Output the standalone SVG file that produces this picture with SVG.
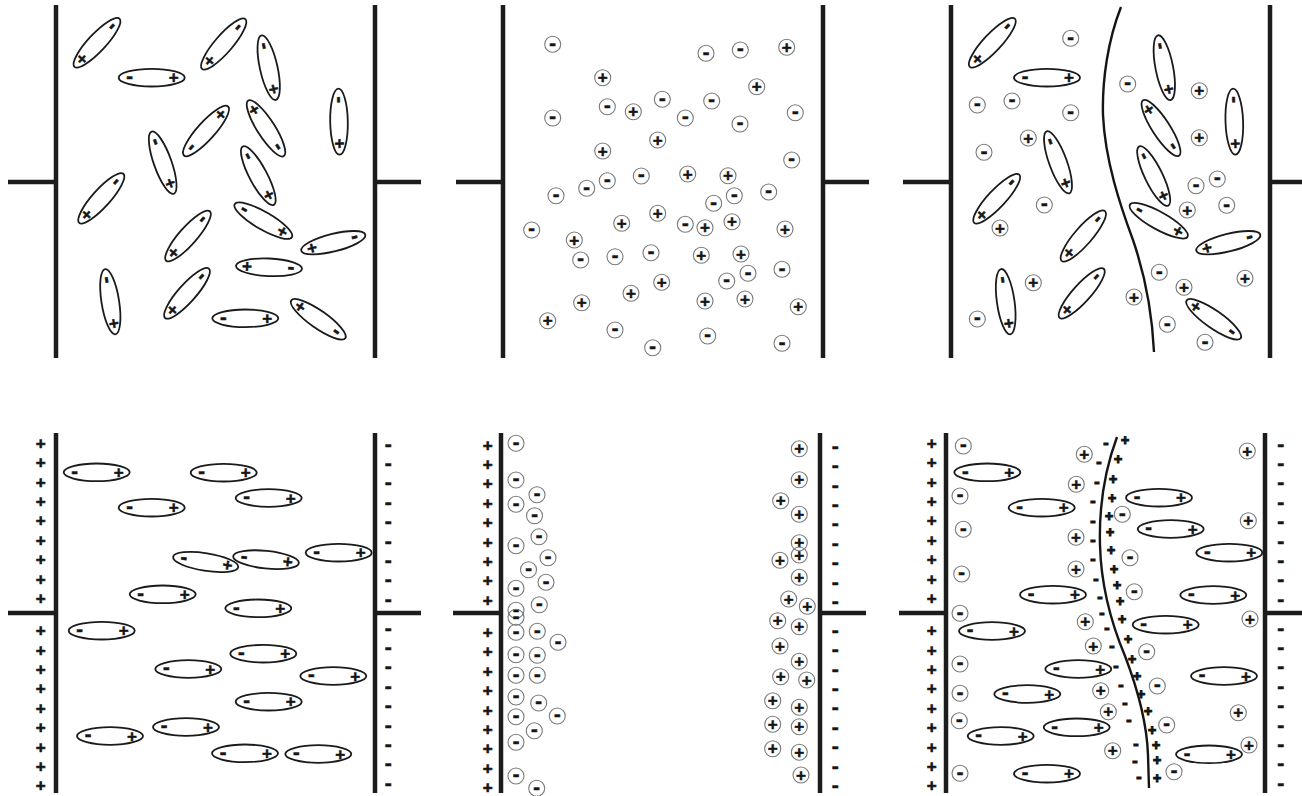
<svg xmlns="http://www.w3.org/2000/svg" xmlns:xlink="http://www.w3.org/1999/xlink" width="1302" height="796" viewBox="0 0 1302 796">
<style>
  .plate { fill:none; stroke:#1c1c1c; stroke-width:4.5; }
  .el { fill:none; stroke:#1a1a1a; stroke-width:1.8; }
  .ion { fill:none; stroke:#7a7a7a; stroke-width:1.1; }
  .curve { fill:none; stroke:#151515; stroke-width:2.4; }
  text { font-family:"Liberation Sans", Arial, sans-serif; font-weight:bold; text-anchor:middle; fill:#151515; stroke:#151515; }
  .pl { font-size:17px; dominant-baseline:central; stroke-width:0.5; }
  .mi { font-size:20px; dominant-baseline:middle; stroke-width:0.6; }
  .ps { font-size:17px; dominant-baseline:central; stroke-width:0.6; }
  .ms { font-size:21px; dominant-baseline:middle; stroke-width:0.6; }
  .bp { font-size:14px; dominant-baseline:central; stroke-width:1.1; }
  .bm { font-size:16px; dominant-baseline:middle; stroke-width:1.1; }
</style>
<defs>
  <!-- dipole: minus end at left, plus end at right; rotated per use -->
  <g id="dip">
    <ellipse rx="33" ry="8.8" class="el"/>
    <text x="-22" y="0" class="mi">-</text>
    <text x="22" y="0" class="pl">+</text>
  </g>
  <g id="ip"><circle r="8" class="ion"/><text y="0" class="pl">+</text></g>
  <g id="im"><circle r="8" class="ion"/><text y="0" class="mi">-</text></g>
  <!-- column of plate charges -->
  <g id="pcol">
    <text y="0" class="ps">+</text><text y="19.4" class="ps">+</text><text y="38.8" class="ps">+</text>
    <text y="58.2" class="ps">+</text><text y="77.6" class="ps">+</text><text y="97" class="ps">+</text>
    <text y="116.4" class="ps">+</text><text y="135.8" class="ps">+</text><text y="155.2" class="ps">+</text>
    <text y="187.4" class="ps">+</text><text y="206.8" class="ps">+</text><text y="226.2" class="ps">+</text>
    <text y="245.6" class="ps">+</text><text y="265" class="ps">+</text><text y="284.4" class="ps">+</text>
    <text y="303.8" class="ps">+</text><text y="323.2" class="ps">+</text><text y="342.6" class="ps">+</text>
  </g>
  <g id="mcol">
    <text y="0" class="ms">-</text><text y="19.4" class="ms">-</text><text y="38.8" class="ms">-</text>
    <text y="58.2" class="ms">-</text><text y="77.6" class="ms">-</text><text y="97" class="ms">-</text>
    <text y="116.4" class="ms">-</text><text y="135.8" class="ms">-</text><text y="155.2" class="ms">-</text>
    <text y="184" class="ms">-</text><text y="203.4" class="ms">-</text><text y="222.8" class="ms">-</text>
    <text y="242.2" class="ms">-</text><text y="261.6" class="ms">-</text><text y="281" class="ms">-</text>
    <text y="300.4" class="ms">-</text><text y="319.8" class="ms">-</text><text y="339.2" class="ms">-</text>
  </g>
</defs>
<rect width="1302" height="796" fill="#fff"/>

<!-- Panel 1: randomly oriented dipoles, no field -->
<g id="panel-1">
  <path class="plate" d="M56,5 V358 M8,182 H56 M375,5 V358 M375,182 H421"/>
  <use href="#dip" transform="translate(97,42.7) rotate(133)"/>
  <use href="#dip" transform="translate(151.7,77.7)"/>
  <use href="#dip" transform="translate(223.7,44) rotate(131)"/>
  <use href="#dip" transform="translate(268.7,67.7) rotate(77.5)"/>
  <use href="#dip" transform="translate(339,121.7) rotate(89)"/>
  <use href="#dip" transform="translate(206,131) rotate(-48)"/>
  <use href="#dip" transform="translate(266,128.3) rotate(-122.6)"/>
  <use href="#dip" transform="translate(162.7,162.7) rotate(70.4)"/>
  <use href="#dip" transform="translate(258.3,175.7) rotate(62)"/>
  <use href="#dip" transform="translate(101.3,198.3) rotate(132)"/>
  <use href="#dip" transform="translate(263.3,220.7) rotate(30)"/>
  <use href="#dip" transform="translate(188,236) rotate(131.4)"/>
  <use href="#dip" transform="translate(333.3,242.7) rotate(166)"/>
  <use href="#dip" transform="translate(269,267.3) rotate(182.5)"/>
  <use href="#dip" transform="translate(110.3,301.7) rotate(81)"/>
  <use href="#dip" transform="translate(187,293.3) rotate(131.6)"/>
  <use href="#dip" transform="translate(245.3,318.3)"/>
  <use href="#dip" transform="translate(318.3,319.3) rotate(215)"/>
</g>

<!-- Panel 2: free ions, no field -->
<g id="panel-2">
  <path class="plate" d="M503,5 V358 M456,182 H503 M823,5 V358 M823,182 H869"/>
  <use href="#im" x="552.7" y="44.3"/>
  <use href="#im" x="706" y="53.3"/>
  <use href="#im" x="740.3" y="50"/>
  <use href="#ip" x="786.7" y="47.3"/>
  <use href="#ip" x="602.7" y="77.7"/>
  <use href="#ip" x="756.7" y="86.7"/>
  <use href="#im" x="607.3" y="106.7"/>
  <use href="#ip" x="633.3" y="111.7"/>
  <use href="#im" x="662.3" y="99.3"/>
  <use href="#im" x="711.7" y="101"/>
  <use href="#im" x="685.3" y="118"/>
  <use href="#im" x="552.7" y="118"/>
  <use href="#im" x="740" y="124"/>
  <use href="#im" x="795.3" y="112.7"/>
  <use href="#ip" x="657.7" y="140"/>
  <use href="#ip" x="602.7" y="151"/>
  <use href="#im" x="791.7" y="160"/>
  <use href="#im" x="607.3" y="180.7"/>
  <use href="#im" x="641.3" y="176"/>
  <use href="#ip" x="687.7" y="174"/>
  <use href="#ip" x="728" y="175.7"/>
  <use href="#im" x="586.7" y="188.3"/>
  <use href="#im" x="556" y="195.7"/>
  <use href="#im" x="734.3" y="195.7"/>
  <use href="#im" x="768.7" y="192"/>
  <use href="#im" x="713.7" y="203.3"/>
  <use href="#ip" x="657.7" y="213.3"/>
  <use href="#ip" x="621.7" y="223.3"/>
  <use href="#im" x="685.3" y="224.3"/>
  <use href="#ip" x="705" y="227.7"/>
  <use href="#ip" x="732" y="221.7"/>
  <use href="#ip" x="785" y="229"/>
  <use href="#im" x="531.7" y="230"/>
  <use href="#ip" x="574.3" y="240"/>
  <use href="#im" x="580.7" y="260"/>
  <use href="#im" x="615" y="256.7"/>
  <use href="#im" x="651" y="252.7"/>
  <use href="#ip" x="701.3" y="255.3"/>
  <use href="#ip" x="741" y="254"/>
  <use href="#im" x="782" y="269.3"/>
  <use href="#im" x="748" y="273.3"/>
  <use href="#im" x="726.7" y="281"/>
  <use href="#ip" x="661.7" y="282.3"/>
  <use href="#ip" x="631" y="293.3"/>
  <use href="#ip" x="581.7" y="302.7"/>
  <use href="#ip" x="705" y="301"/>
  <use href="#ip" x="745" y="299"/>
  <use href="#ip" x="798.3" y="306.7"/>
  <use href="#ip" x="547.7" y="320.7"/>
  <use href="#im" x="615" y="330"/>
  <use href="#im" x="652.7" y="347.7"/>
  <use href="#im" x="707.7" y="336"/>
  <use href="#im" x="782" y="343.3"/>
</g>

<!-- Panel 3: dipoles and ions with a boundary -->
<g id="panel-3">
  <path class="plate" d="M951,5 V358 M903,182 H951 M1270,5 V358 M1270,182 H1302"/>
  <path class="curve" d="M1121,7 C1108,40 1102,80 1103,115 C1105,160 1120,205 1133,240 C1145,275 1152,310 1154,352"/>
  <use href="#dip" transform="translate(992.3,42.7) rotate(133)"/>
  <use href="#dip" transform="translate(1047,77.7)"/>
  <use href="#dip" transform="translate(1164.3,67.7) rotate(79)"/>
  <use href="#dip" transform="translate(1234.3,121.7) rotate(88)"/>
  <use href="#dip" transform="translate(1161,128) rotate(-123)"/>
  <use href="#dip" transform="translate(1058,162.3) rotate(70)"/>
  <use href="#dip" transform="translate(1153.7,176) rotate(64)"/>
  <use href="#dip" transform="translate(996.7,198.7) rotate(133)"/>
  <use href="#dip" transform="translate(1158.7,220.7) rotate(29)"/>
  <use href="#dip" transform="translate(1083.3,236) rotate(131)"/>
  <use href="#dip" transform="translate(1228.3,242.7) rotate(166)"/>
  <use href="#dip" transform="translate(1005.7,301.7) rotate(82)"/>
  <use href="#dip" transform="translate(1081.7,293.3) rotate(132)"/>
  <use href="#dip" transform="translate(1213.7,319.3) rotate(215)"/>
  <use href="#im" x="1070.7" y="38.3"/>
  <use href="#im" x="1127.7" y="84"/>
  <use href="#im" x="977.3" y="105"/>
  <use href="#im" x="1012" y="101"/>
  <use href="#im" x="1070.7" y="112.7"/>
  <use href="#ip" x="1199.3" y="90.7"/>
  <use href="#ip" x="1028.3" y="138"/>
  <use href="#ip" x="1199.3" y="137.7"/>
  <use href="#im" x="984" y="152.3"/>
  <use href="#im" x="1196" y="185.7"/>
  <use href="#im" x="1217.3" y="179"/>
  <use href="#im" x="1226.7" y="205.3"/>
  <use href="#im" x="1044.3" y="205"/>
  <use href="#ip" x="1187.3" y="210"/>
  <use href="#ip" x="1000" y="228"/>
  <use href="#im" x="1159.3" y="272.3"/>
  <use href="#ip" x="1033.3" y="282.7"/>
  <use href="#ip" x="1245" y="278.3"/>
  <use href="#ip" x="1184" y="287.3"/>
  <use href="#ip" x="1134" y="297"/>
  <use href="#im" x="977.3" y="319"/>
  <use href="#im" x="1167.3" y="324.3"/>
  <use href="#im" x="1205" y="342.3"/>
</g>

<!-- Panel 4: aligned dipoles between charged plates -->
<g id="panel-4">
  <path class="plate" d="M56,433 V793 M8,613 H56 M375,433 V793 M375,613 H421"/>
  <use href="#pcol" x="40.7" y="443.3"/>
  <use href="#mcol" x="388.3" y="445"/>
  <use href="#dip" transform="translate(96.7,472.3)"/>
  <use href="#dip" transform="translate(223.7,472.7)"/>
  <use href="#dip" transform="translate(268.7,498)"/>
  <use href="#dip" transform="translate(151.7,507.7)"/>
  <use href="#dip" transform="translate(205.7,562) rotate(9)"/>
  <use href="#dip" transform="translate(266,559.7) rotate(6)"/>
  <use href="#dip" transform="translate(338.7,552.7)"/>
  <use href="#dip" transform="translate(162.7,594.3)"/>
  <use href="#dip" transform="translate(258.3,608.3)"/>
  <use href="#dip" transform="translate(101.7,630.7)"/>
  <use href="#dip" transform="translate(263.3,653.7)"/>
  <use href="#dip" transform="translate(188.3,669)"/>
  <use href="#dip" transform="translate(333.3,676)"/>
  <use href="#dip" transform="translate(268.7,701.7)"/>
  <use href="#dip" transform="translate(186,727)"/>
  <use href="#dip" transform="translate(110,736)"/>
  <use href="#dip" transform="translate(245,753.3)"/>
  <use href="#dip" transform="translate(318.3,754)"/>
</g>

<!-- Panel 5: ions drawn to the opposite plates -->
<g id="panel-5">
  <path class="plate" d="M501,433 V793 M453,613 H501 M820,433 V793 M820,613 H866"/>
  <use href="#pcol" x="487.7" y="445"/>
  <use href="#mcol" x="835.3" y="447.3"/>
  <use href="#im" x="516" y="443.3"/>
  <use href="#im" x="516" y="480"/>
  <use href="#im" x="537" y="494.7"/>
  <use href="#im" x="516" y="504.3"/>
  <use href="#im" x="534.5" y="515.7"/>
  <use href="#im" x="539" y="536.7"/>
  <use href="#im" x="516" y="545.7"/>
  <use href="#im" x="548" y="557.7"/>
  <use href="#im" x="528.5" y="569.7"/>
  <use href="#im" x="546" y="582.3"/>
  <use href="#im" x="516" y="588.3"/>
  <use href="#im" x="539.3" y="604.7"/>
  <use href="#im" x="516" y="610.3"/>
  <use href="#im" x="516" y="617.3"/>
  <use href="#im" x="516" y="632.3"/>
  <use href="#im" x="537.3" y="631.3"/>
  <use href="#im" x="558" y="642.3"/>
  <use href="#im" x="516" y="654.7"/>
  <use href="#im" x="537.3" y="655.3"/>
  <use href="#im" x="516" y="675.3"/>
  <use href="#im" x="537.3" y="675.3"/>
  <use href="#im" x="516" y="697"/>
  <use href="#im" x="538.7" y="703"/>
  <use href="#im" x="516" y="716.7"/>
  <use href="#im" x="557.3" y="716"/>
  <use href="#im" x="534.3" y="730.7"/>
  <use href="#im" x="516" y="742.3"/>
  <use href="#im" x="516" y="776"/>
  <use href="#im" x="536.7" y="788.3"/>
  <use href="#ip" x="799.3" y="448.7"/>
  <use href="#ip" x="799.3" y="479.7"/>
  <use href="#ip" x="780.7" y="500.7"/>
  <use href="#ip" x="799.3" y="514.3"/>
  <use href="#ip" x="799.3" y="542.7"/>
  <use href="#ip" x="799.3" y="555"/>
  <use href="#ip" x="780" y="560.3"/>
  <use href="#ip" x="799.3" y="577.3"/>
  <use href="#ip" x="788.7" y="599"/>
  <use href="#ip" x="807.3" y="606.3"/>
  <use href="#ip" x="777.7" y="620.7"/>
  <use href="#ip" x="799.3" y="626.7"/>
  <use href="#ip" x="780" y="646"/>
  <use href="#ip" x="799.3" y="661.3"/>
  <use href="#ip" x="780.7" y="676.7"/>
  <use href="#ip" x="806.7" y="680"/>
  <use href="#ip" x="772.7" y="700.7"/>
  <use href="#ip" x="799.3" y="707.3"/>
  <use href="#ip" x="772.7" y="724.3"/>
  <use href="#ip" x="799.3" y="726.7"/>
  <use href="#ip" x="772.7" y="748.7"/>
  <use href="#ip" x="799.3" y="752.3"/>
  <use href="#ip" x="801" y="775"/>
</g>

<!-- Panel 6: aligned dipoles, ions and a charged boundary layer -->
<g id="panel-6">
  <path class="plate" d="M946,433 V793 M899,613 H946 M1265,433 V793 M1265,613 H1302"/>
  <use href="#pcol" x="931.7" y="443.3"/>
  <use href="#mcol" x="1280.7" y="445"/>
  <path class="curve" d="M1117,437 C1104,472 1099,510 1100,545 C1101,585 1112,625 1125,656 C1138,690 1147,725 1148,755 L1149,788"/>
  <use href="#dip" transform="translate(987.3,472.3)"/>
  <use href="#dip" transform="translate(1041.7,507.7)"/>
  <use href="#dip" transform="translate(1159,497.7)"/>
  <use href="#dip" transform="translate(1170.7,529)"/>
  <use href="#dip" transform="translate(1229.3,552.7)"/>
  <use href="#dip" transform="translate(1053,594.7)"/>
  <use href="#dip" transform="translate(1213.3,595)"/>
  <use href="#dip" transform="translate(1165.7,624.7)"/>
  <use href="#dip" transform="translate(992,631)"/>
  <use href="#dip" transform="translate(1078.3,669)"/>
  <use href="#dip" transform="translate(1224,676)"/>
  <use href="#dip" transform="translate(1027.3,694)"/>
  <use href="#dip" transform="translate(1076.7,727.3)"/>
  <use href="#dip" transform="translate(1000.7,736)"/>
  <use href="#dip" transform="translate(1209,754.3)"/>
  <use href="#dip" transform="translate(1047,773.7)"/>
  <use href="#im" x="963.3" y="446"/>
  <use href="#ip" x="1084.3" y="454.3"/>
  <use href="#ip" x="1247.3" y="451"/>
  <use href="#ip" x="1076.3" y="484.3"/>
  <use href="#im" x="960" y="496"/>
  <use href="#im" x="1122.3" y="514.3"/>
  <use href="#ip" x="1248.3" y="520.7"/>
  <use href="#im" x="963.3" y="529.3"/>
  <use href="#ip" x="1076" y="537.3"/>
  <use href="#im" x="1130" y="557.7"/>
  <use href="#ip" x="1076" y="569"/>
  <use href="#im" x="961.7" y="574"/>
  <use href="#im" x="1134.3" y="591.7"/>
  <use href="#im" x="960" y="613.3"/>
  <use href="#ip" x="1085.3" y="621.7"/>
  <use href="#ip" x="1250" y="619"/>
  <use href="#ip" x="1093.3" y="646"/>
  <use href="#im" x="1146.7" y="651.7"/>
  <use href="#im" x="960" y="664"/>
  <use href="#ip" x="1100.7" y="690.7"/>
  <use href="#im" x="1157.3" y="686"/>
  <use href="#im" x="960" y="693.3"/>
  <use href="#ip" x="1108.3" y="711.7"/>
  <use href="#ip" x="1238.3" y="712.7"/>
  <use href="#im" x="959.3" y="720.7"/>
  <use href="#im" x="1166.7" y="725"/>
  <use href="#ip" x="1112.7" y="750.7"/>
  <use href="#ip" x="1249" y="745"/>
  <use href="#im" x="1174" y="771.7"/>
  <use href="#im" x="960" y="773.3"/>
  <!-- charges lining the boundary: negative on the left side, positive on the right -->
  <g id="boundary-charges">
    <text x="1106" y="444" class="bm">-</text>
    <text x="1099" y="463" class="bm">-</text>
    <text x="1097" y="483" class="bm">-</text>
    <text x="1093" y="502" class="bm">-</text>
    <text x="1093" y="522" class="bm">-</text>
    <text x="1093" y="541" class="bm">-</text>
    <text x="1093" y="560" class="bm">-</text>
    <text x="1096" y="580" class="bm">-</text>
    <text x="1100" y="598" class="bm">-</text>
    <text x="1102" y="614" class="bm">-</text>
    <text x="1107" y="629" class="bm">-</text>
    <text x="1112" y="647" class="bm">-</text>
    <text x="1116" y="667" class="bm">-</text>
    <text x="1121" y="686" class="bm">-</text>
    <text x="1125" y="704" class="bm">-</text>
    <text x="1129" y="721" class="bm">-</text>
    <text x="1136" y="745" class="bm">-</text>
    <text x="1135" y="762" class="bm">-</text>
    <text x="1139" y="778" class="bm">-</text>
    <text x="1125" y="440" class="bp">+</text>
    <text x="1118" y="459" class="bp">+</text>
    <text x="1113" y="479" class="bp">+</text>
    <text x="1112" y="498" class="bp">+</text>
    <text x="1109" y="516" class="bp">+</text>
    <text x="1110" y="532" class="bp">+</text>
    <text x="1111" y="550" class="bp">+</text>
    <text x="1114" y="569" class="bp">+</text>
    <text x="1117" y="585" class="bp">+</text>
    <text x="1120" y="601" class="bp">+</text>
    <text x="1122" y="619" class="bp">+</text>
    <text x="1128" y="639" class="bp">+</text>
    <text x="1132" y="659" class="bp">+</text>
    <text x="1137" y="676" class="bp">+</text>
    <text x="1141" y="694" class="bp">+</text>
    <text x="1148" y="711" class="bp">+</text>
    <text x="1152" y="730" class="bp">+</text>
    <text x="1156" y="745" class="bp">+</text>
    <text x="1157" y="760" class="bp">+</text>
    <text x="1157" y="778" class="bp">+</text>
  </g>
</g>
</svg>
